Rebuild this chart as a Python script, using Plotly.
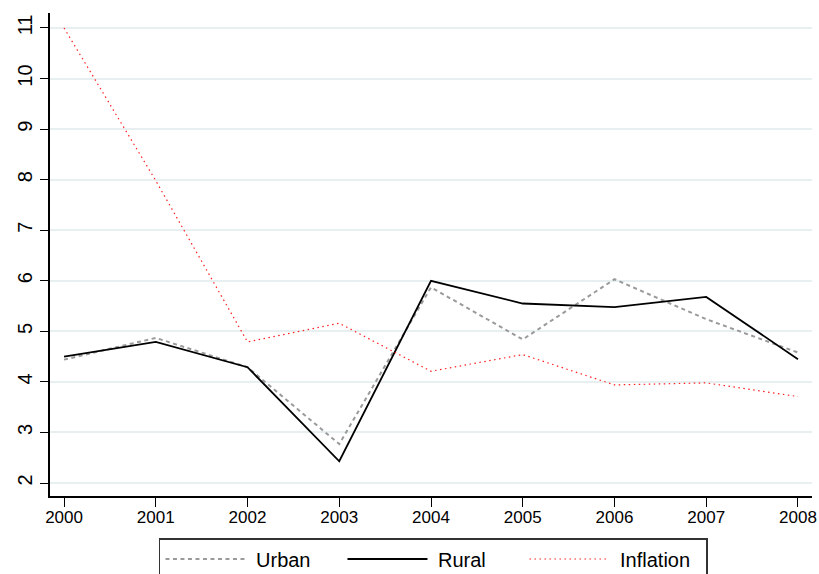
import plotly.graph_objects as go

years = [2000, 2001, 2002, 2003, 2004, 2005, 2006, 2007, 2008]
urban = [4.44, 4.87, 4.29, 2.77, 5.87, 4.84, 6.03, 5.24, 4.58]
rural = [4.50, 4.79, 4.29, 2.43, 6.00, 5.55, 5.48, 5.68, 4.45]
inflation = [11.0, 7.98, 4.79, 5.16, 4.21, 4.54, 3.94, 3.98, 3.71]
y_ticks = [2, 3, 4, 5, 6, 7, 8, 9, 10, 11]
series_names = ["Urban", "Rural", "Inflation"]

FONT = "Liberation Sans, Arial, sans-serif"
NB = "\u00a0"

fig = go.Figure()
fig.add_trace(go.Scatter(x=years, y=urban, mode="lines", name=NB + series_names[0],
                         line=dict(color="#9a9a9a", width=2, dash="4px,3.5px")))
fig.add_trace(go.Scatter(x=years, y=rural, mode="lines", name=NB + series_names[1],
                         line=dict(color="#000000", width=1.8)))
fig.add_trace(go.Scatter(x=years, y=inflation, mode="lines", name=NB + series_names[2],
                         line=dict(color="#ff2020", width=1.2, dash="1.5px,3.5px")))

fig.update_layout(
    width=819, height=574,
    margin=dict(l=50, r=7, t=13, b=78, autoexpand=False),
    paper_bgcolor="white", plot_bgcolor="white",
    font=dict(family=FONT, color="black", size=17),
    showlegend=True,
    legend=dict(orientation="h", x=0.143, xanchor="left", y=-0.087, yanchor="top",
                bordercolor="#333333", borderwidth=1.5, bgcolor="white",
                font=dict(size=20, family=FONT),
                itemwidth=80, entrywidth=87, entrywidthmode="pixels",
                traceorder="normal"),
    xaxis=dict(range=[1999.847, 2008.153], tickmode="array", tickvals=years,
               ticktext=[str(y) for y in years], showgrid=False, zeroline=False,
               showline=True, linecolor="black", linewidth=1.5,
               ticks="outside", ticklen=9, tickcolor="black", tickwidth=1.2,
               ticklabelstandoff=-4, tickfont=dict(size=17)),
    yaxis=dict(range=[1.743, 11.296], tickmode="array", tickvals=y_ticks,
               showgrid=True, gridcolor="#e8eff1", gridwidth=1.6, zeroline=False,
               showline=True, linecolor="black", linewidth=1.5,
               ticks="outside", ticklen=8, tickcolor="black", tickwidth=1.2,
               tickangle=-90, tickfont=dict(size=20)),
)

fig.write_html("out.html")
